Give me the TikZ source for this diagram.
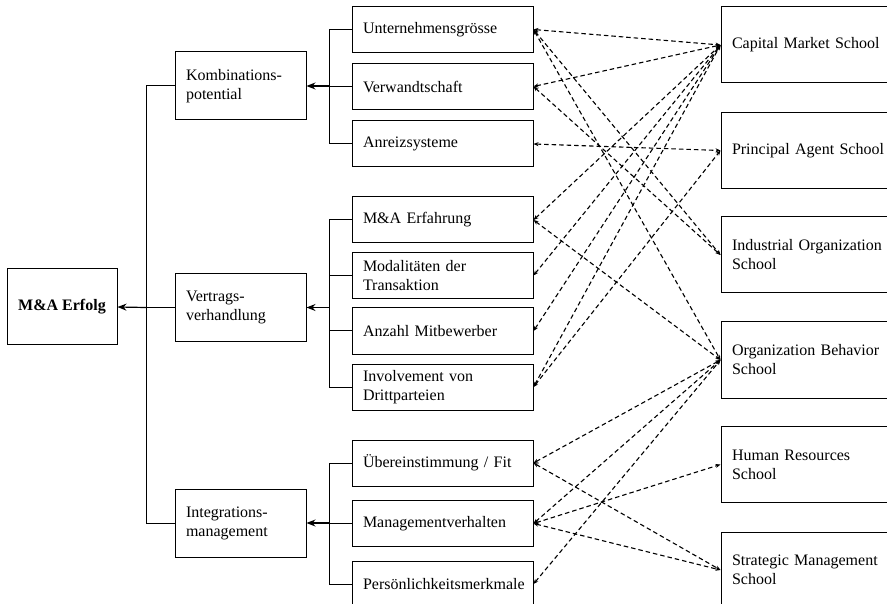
\documentclass[tikz,border=0pt]{standalone}
\usepackage{fontspec}
\setmainfont{Liberation Serif}
\usetikzlibrary{arrows.meta}
\begin{document}
\begin{tikzpicture}[x=1pt,y=-1pt,
  box/.style={draw, line width=1pt, font=\fontsize{16}{19}\selectfont, align=left, inner ysep=0pt},
  sub/.style={box, text width=159pt, inner xsep=11pt, minimum height=46pt},
  mid/.style={box, text width=109pt, inner xsep=11pt, minimum height=68pt},
  school/.style={box, text width=160pt, inner xsep=11pt, minimum height=76pt},
  link/.style={line width=1.1pt, dash pattern=on 4.5pt off 3pt, {Stealth[length=5pt,width=4pt]}-{Stealth[length=5pt,width=4pt]}},
  tree/.style={line width=1pt},
  arr/.style={line width=1.2pt, -{Stealth[length=9pt,width=7pt]}}
]
\useasboundingbox (0,0) rectangle (887,604);
\clip (0,0) rectangle (887,604);

% root
\node[box, minimum width=110pt, minimum height=76pt, align=center, inner xsep=0pt,
      font=\fontsize{16}{19}\selectfont\bfseries] (root) at (62,307) {M\&A Erfolg};

% middle level
\node[mid] (k) at (240.5,86)    {Kombinations-\\potential};
\node[mid] (v) at (240.5,307.5) {Vertrags-\\verhandlung};
\node[mid] (i) at (240.5,523)   {Integrations-\\management};

% factors
\node[sub] (u)  at (442.5,29.5)  {Unternehmensgrösse};
\node[sub] (ve) at (442.5,86.5)  {Verwandtschaft};
\node[sub] (an) at (442.5,144)   {Anreizsysteme};
\node[sub] (ma) at (442.5,220)   {M\&A Erfahrung};
\node[sub] (mo) at (442.5,275.5) {Modalitäten der\\Transaktion};
\node[sub] (az) at (442.5,331)   {Anzahl Mitbewerber};
\node[sub] (in) at (442.5,387)   {Involvement von\\Drittparteien};
\node[sub] (ue) at (442.5,463)   {Übereinstimmung / Fit};
\node[sub] (mv) at (442.5,523.5) {Managementverhalten};
\node[sub] (pe) at (442.5,584)   {Persönlichkeitsmerkmale};

% schools
\node[school] (cm) at (812,45)    {Capital Market School};
\node[school] (pa) at (812,150.5) {Principal Agent School};
\node[school] (io) at (812,255)   {Industrial Organization\\School};
\node[school] (ob) at (812,360)   {Organization Behavior\\School};
\node[school] (hr) at (812,464.5) {Human Resources\\School};
\node[school] (sm) at (812,570)   {Strategic Management\\School};

\coordinate (bx) at (329,0);
\coordinate (tx) at (146,0);

% trunk
\draw[tree] (k.west) -| (tx |- i.west) -- (i.west);
\draw[tree] (v.west) -- (v.west -| tx);
\draw[arr] (v.west -| tx) -- (root.east);

% group 1
\draw[tree] (u.west) -| (bx |- an.west) -- (an.west);
\draw[tree] (ve.west) -- (ve.west -| bx);
\draw[arr] (k.east -| bx) -- (k.east);

% group 2
\draw[tree] (ma.west) -| (bx |- in.west) -- (in.west);
\draw[tree] (mo.west) -- (mo.west -| bx);
\draw[tree] (az.west) -- (az.west -| bx);
\draw[arr] (v.east -| bx) -- (v.east);

% group 3
\draw[tree] (ue.west) -| (bx |- pe.west) -- (pe.west);
\draw[tree] (mv.west) -- (mv.west -| bx);
\draw[arr] (i.east -| bx) -- (i.east);

% dashed links
\foreach \a/\b in {u/cm, u/io, u/ob, ve/cm, ve/io, an/pa, ma/cm, ma/ob, mo/cm, az/cm,
                   in/cm, in/pa, ue/ob, ue/sm, mv/ob, mv/hr, mv/sm, pe/ob}
  \draw[link] (\a.east) -- (\b.west);
\end{tikzpicture}
\end{document}
